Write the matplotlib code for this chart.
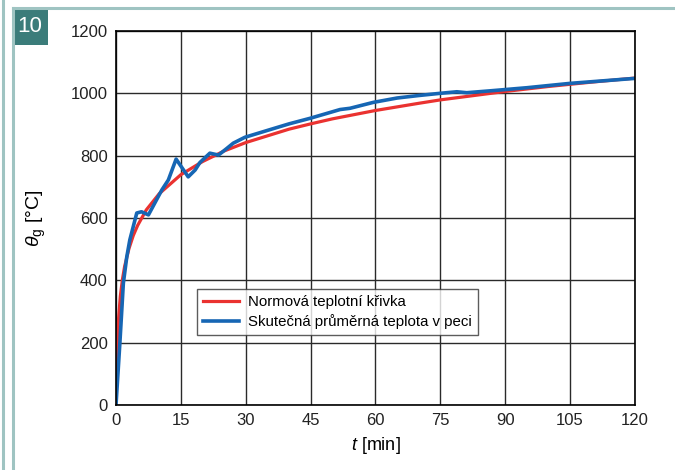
import numpy as np
import matplotlib
matplotlib.use("Agg")
import matplotlib.pyplot as plt
from matplotlib.lines import Line2D
from matplotlib.patches import Rectangle

plt.rcParams['font.family'] = ['Liberation Sans', 'DejaVu Sans']
plt.rcParams['mathtext.fontset'] = 'custom'
plt.rcParams['mathtext.rm'] = 'Liberation Sans'
plt.rcParams['mathtext.it'] = 'Liberation Sans:italic'

# normova teplotni krivka
t_norm = [0, 0.5, 1, 1.5, 2, 3, 4, 5, 7, 10, 15, 20, 25, 30, 40, 45, 50, 60,
          70, 75, 80, 90, 100, 105, 110, 120]
theta_norm = [20, 261, 349, 404, 445, 502, 544, 576, 626, 678, 739, 781, 815,
              842, 885, 902, 918, 945, 968, 979, 988, 1006, 1022, 1029, 1036, 1049]

# skutecna prumerna teplota v peci
t_real = [0, 0.9, 1.7, 2.5, 3.2, 4.8, 5.9, 7.5, 10.6, 12.1, 13.9, 16.7, 18.3,
          19.4, 21.7, 23.7, 25.6, 27.1, 29.8, 35, 40, 44.9, 51.8, 54.1, 59.5,
          65, 70, 74.9, 78.8, 81.1, 86.5, 95, 105, 120]
theta_real = [0, 200, 391, 476, 530, 616, 620, 610, 690, 722, 789, 732, 754,
              778, 808, 802, 823, 840, 859, 881, 902, 920, 948, 952, 971,
              985, 993, 1000, 1005, 1002, 1008, 1018, 1032, 1048]

xticks = [0, 15, 30, 45, 60, 75, 90, 105, 120]
yticks = [0, 200, 400, 600, 800, 1000, 1200]

W, H = 675, 470
fig = plt.figure(figsize=(W / 100, H / 100), dpi=100)
ax = fig.add_axes([116 / W, 1 - 405 / H, (635 - 116) / W, (405 - 31) / H])

ax.plot(t_norm, theta_norm, color='#ea3230', lw=2.3, label='Normová teplotní křivka',
        solid_joinstyle='round')
ax.plot(t_real, theta_real, color='#1666b4', lw=2.6, label='Skutečná průměrná teplota v peci',
        solid_joinstyle='round')

ax.set_xlim(0, 120)
ax.set_ylim(0, 1200)
ax.set_xticks(xticks)
ax.set_yticks(yticks)
ax.tick_params(length=0, labelsize=12, pad=6, colors='#222222')
ax.grid(True, color='#2a2a2a', lw=1)
ax.set_axisbelow(True)
for s in ax.spines.values():
    s.set_color('black')
    s.set_linewidth(1.2)

ax.set_xlabel(r'$t$ [min]', fontsize=13, labelpad=5)
ax.set_ylabel(r'$\theta_\mathrm{g}$ [°C]', fontsize=14, labelpad=16)

leg = ax.legend(loc='lower left', bbox_to_anchor=(0.157, 0.187), fontsize=10.8,
                frameon=True, fancybox=False, edgecolor='#333333',
                handlelength=2.4, borderpad=0.4, labelspacing=0.35,
                handletextpad=0.6, borderaxespad=0)
leg.get_frame().set_linewidth(1)

# frame decorations
fc = '#9fc4c2'
fig.add_artist(Line2D([2.5 / W, 2.5 / W], [0, 1], color=fc, lw=2.2))
fig.add_artist(Line2D([12.5 / W, 12.5 / W], [0, 1 - 8 / H], color=fc, lw=2.2))
fig.add_artist(Line2D([12.5 / W, 1], [1 - 8 / H, 1 - 8 / H], color=fc, lw=2.2))
fig.add_artist(Rectangle((12 / W, 1 - 45 / H), 36 / W, 37 / H,
                         transform=fig.transFigure, color='#3b7c7a', lw=0))
fig.text(29.5 / W, 1 - 27 / H, '10', color='white', fontsize=16,
         ha='center', va='center')

fig.savefig('out.png', dpi=100)
